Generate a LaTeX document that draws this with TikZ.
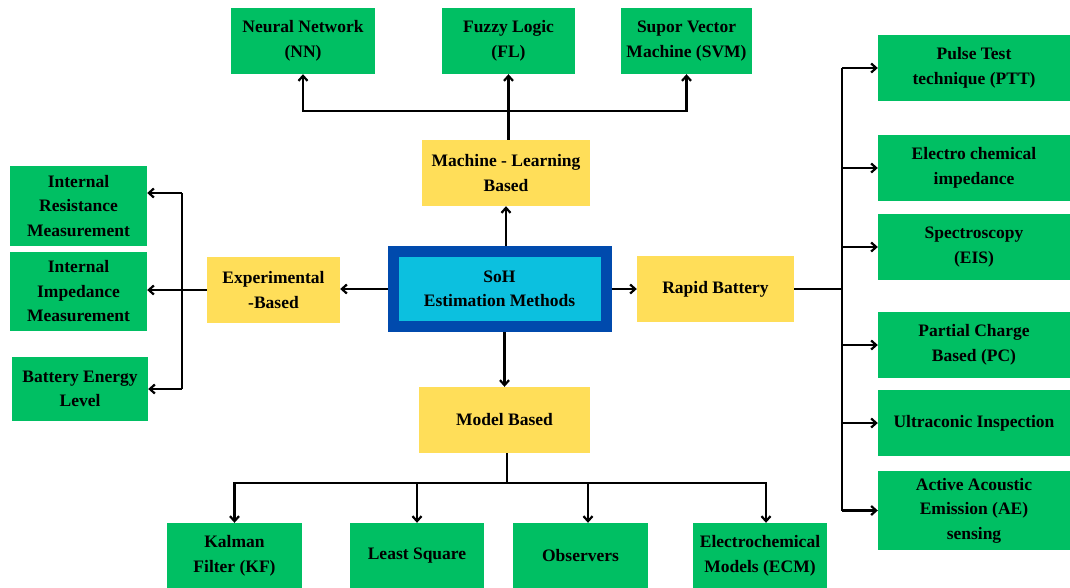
\documentclass[tikz,border=0pt]{standalone}
\usepackage{fontspec}
\setmainfont{Liberation Serif}
\usetikzlibrary{arrows.meta,calc}
\definecolor{gbox}{HTML}{00BF63}
\definecolor{ybox}{HTML}{FFDE59}
\definecolor{dblue}{HTML}{004AAD}
\definecolor{cyanbox}{HTML}{0CC0DF}
\begin{document}
\begin{tikzpicture}[x=1pt,y=-1pt,
  base/.style={rectangle,inner sep=0pt,align=center,font=\fontsize{17.5}{24.5}\selectfont\bfseries},
  green/.style={base,fill=gbox},
  yellow/.style={base,fill=ybox},
  arr/.style={line width=2.2pt,-{Straight Barb[length=5pt,width=9pt]}},
  ln/.style={line width=2.2pt}]
\useasboundingbox (0,0) rectangle (1070,587);
% top
\node[green,minimum width=144,minimum height=66] (nn) at (303,41) {Neural Network\\(NN)};
\node[green,minimum width=133,minimum height=66] (fl) at (508.5,41) {Fuzzy Logic\\(FL)};
\node[green,minimum width=131,minimum height=66] (svm) at (686.5,41) {Supor Vector\\Machine (SVM)};
\node[yellow,minimum width=168,minimum height=66] (ml) at (506,173) {Machine - Learning\\Based};
% center
\node[base,fill=cyanbox,draw=dblue,line width=11pt,minimum width=213,minimum height=75] (soh) at (499.5,289) {SoH\\Estimation Methods};
\node[yellow,minimum width=133,minimum height=66] (exp) at (273.5,290) {Experimental\\-Based};
\node[yellow,minimum width=157,minimum height=66] (rb) at (715.5,289) {Rapid Battery};
\node[yellow,minimum width=171,minimum height=66] (mb) at (504.5,420) {Model Based};
% left
\node[green,minimum width=137,minimum height=80] (irm) at (78.5,206) {Internal\\Resistance\\Measurement};
\node[green,minimum width=137,minimum height=79] (iim) at (78.5,291.5) {Internal\\Impedance\\Measurement};
\node[green,minimum width=136,minimum height=64] (bel) at (80,389) {Battery Energy\\Level};
% right
\node[green,minimum width=192,minimum height=66] (ptt) at (974,68) {Pulse Test\\technique (PTT)};
\node[green,minimum width=192,minimum height=66] (eci) at (974,168) {Electro chemical\\impedance};
\node[green,minimum width=192,minimum height=66] (eis) at (974,247) {Spectroscopy\\(EIS)};
\node[green,minimum width=192,minimum height=66] (pc) at (974,345) {Partial Charge\\Based (PC)};
\node[green,minimum width=192,minimum height=66] (uis) at (974,423) {Ultraconic Inspection};
\node[green,minimum width=192,minimum height=79] (ae) at (974,510.5) {Active Acoustic\\Emission (AE)\\sensing};
% bottom
\node[green,minimum width=135,minimum height=66] (kf) at (234.5,556) {Kalman\\Filter (KF)};
\node[green,minimum width=134,minimum height=66] (ls) at (417,556) {Least Square};
\node[green,minimum width=135,minimum height=66] (obs) at (580.5,556) {Observers};
\node[green,minimum width=134,minimum height=66] (ecm) at (760,556) {Electrochemical\\Models (ECM)};
% junction coordinates
\coordinate (tj) at (508,111);
\coordinate (lj1) at (182,193);
\coordinate (lj2) at (182,389);
\coordinate (rj1) at (842,68);
\coordinate (rj2) at (842,510.5);
\coordinate (rjb) at (842,289);
\coordinate (bj) at (507,483);
% top connectors
\draw[arr] (soh.north -| ml) -- (ml.south);
\draw[arr] (ml.north -| fl) -- (fl.south);
\draw[arr] (tj) -| (nn.south);
\draw[arr] (tj) -| (svm.south);
% center connectors
\draw[arr] (soh.west) -- (soh.west -| exp.east);
\draw[arr] (soh.east) -- (rb.west);
\draw[arr] (soh.south -| mb) -- (mb.north);
% left connectors
\draw[arr] (exp.west) -- (exp.west -| iim.east);
\draw[ln] (lj1) -- (lj2);
\draw[arr] (lj1) -- (lj1 -| irm.east);
\draw[arr] (lj2) -- (bel.east);
% right connectors
\draw[ln] (rb.east) -- (rjb);
\draw[ln] (rj1) -- (rj2);
\draw[arr] (rj1) -- (ptt.west);
\draw[arr] (rj1 |- eci) -- (eci.west);
\draw[arr] (rj1 |- eis) -- (eis.west);
\draw[arr] (rj1 |- pc) -- (pc.west);
\draw[arr] (rj1 |- uis) -- (uis.west);
\draw[arr] (rj2) -- (ae.west);
% bottom connectors
\draw[ln] (mb.south -| bj) -- (bj);
\draw[arr] (bj) -| (kf.north);
\draw[arr] (bj) -| (ls.north);
\draw[arr] (bj) -| ($(obs.north)+(7.5,0)$);
\draw[arr] (bj) -| ($(ecm.north)+(6,0)$);
\end{tikzpicture}
\end{document}
